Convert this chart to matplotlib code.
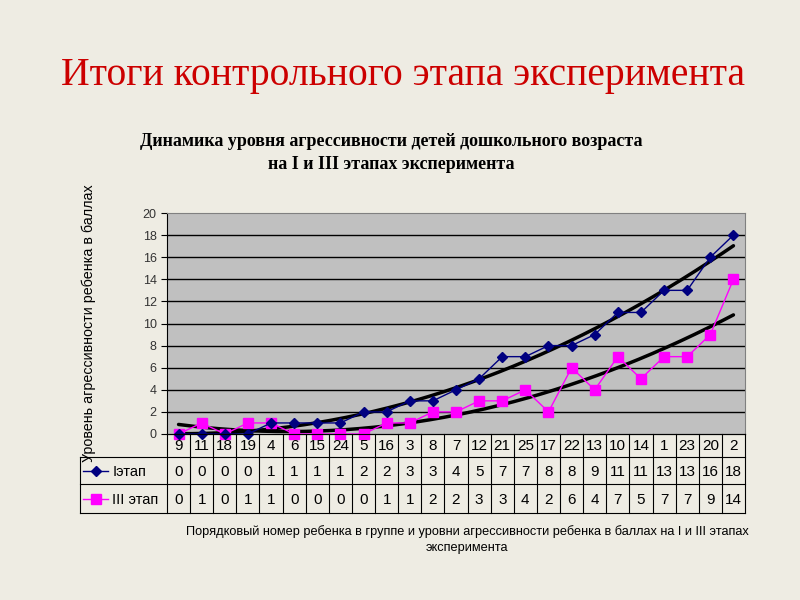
import numpy as np
import matplotlib.pyplot as plt
from matplotlib.lines import Line2D

# child numbers (table header) and aggression scores per stage
children = [9, 11, 18, 19, 4, 6, 15, 24, 5, 16, 3, 8, 7, 12, 21, 25, 17, 22, 13, 10, 14, 1, 23, 20, 2]
stage1 = [0, 0, 0, 0, 1, 1, 1, 1, 2, 2, 3, 3, 4, 5, 7, 7, 8, 8, 9, 11, 11, 13, 13, 16, 18]
stage3 = [0, 1, 0, 1, 1, 0, 0, 0, 0, 1, 1, 2, 2, 3, 3, 4, 2, 6, 4, 7, 5, 7, 7, 9, 14]
yticks = list(range(0, 21, 2))

bg = '#EEECE3'
W, H = 800, 600
plt.rcParams['font.family'] = ['Liberation Sans', 'DejaVu Sans']

fig = plt.figure(figsize=(8, 6), dpi=100, facecolor=bg)


def box(l, t, r, b):
    # pixel box -> figure fraction
    return [l / W, 1 - b / H, (r - l) / W, (b - t) / H]


fig.text(403 / W, 1 - 76 / H, 'Итоги контрольного этапа эксперимента',
         ha='center', va='center', color='#CC0000', fontsize=28.5,
         family=['Liberation Serif', 'DejaVu Serif'])
fig.text(391 / W, 1 - 153 / H,
         'Динамика уровня агрессивности детей дошкольного возраста\nна I и III этапах эксперимента',
         ha='center', va='center', fontsize=13, fontweight='bold', linespacing=1.45,
         family=['Liberation Serif', 'DejaVu Serif'])

n = len(children)
x = np.arange(1, n + 1)
L, T, R, B = 167, 213, 745, 434
cell = (R - L) / n

ax = fig.add_axes(box(L, T, R, B))
ax.set_facecolor('#C0C0C0')
ax.set_xlim(0.5, n + 0.5)
ax.set_ylim(0, 20)
ax.set_yticks(yticks)
ax.set_xticks(np.arange(0.5, n + 1, 1))
ax.set_xticklabels([])
ax.tick_params(axis='y', labelsize=9, labelcolor='#333333', length=4, width=0.8)
ax.tick_params(axis='x', length=0)
for y in yticks[1:-1]:
    ax.axhline(y, color='black', lw=1, zorder=1)
for s in ax.spines.values():
    s.set_color('#808080')
ax.spines['left'].set_color('black')
ax.spines['bottom'].set_color('black')

# polynomial trend lines
for vals in (stage1, stage3):
    c = np.polyfit(x, vals, 2)
    xs = np.linspace(1, n, 200)
    ax.plot(xs, np.polyval(c, xs), color='black', lw=2.5, zorder=2, solid_capstyle='round')

ax.plot(x, stage1, color='#000080', marker='D', ms=5.5, lw=1, zorder=4, clip_on=False)
ax.plot(x, stage3, color='#FF00FF', marker='s', ms=7, lw=1, zorder=3, clip_on=False)

ax.text(-0.135, 0.5, 'Уровень агрессивности ребенка в баллах', transform=ax.transAxes,
        rotation=90, ha='center', va='center', fontsize=10.3)

# data table below the plot
TL, TB = 80, 513
rows = [434, 457, 484, 513]
tab = fig.add_axes(box(TL, B, R, TB))
tab.set_xlim(0.5 - (L - TL) / cell, n + 0.5)
tab.set_ylim(TB, B)
tab.axis('off')
lk = dict(color='black', lw=0.8, clip_on=False)
tab.plot([0.5, n + 0.5], [rows[0], rows[0]], **lk)
for yy in rows[1:]:
    tab.plot([0.5 - (L - TL) / cell, n + 0.5], [yy, yy], **lk)
for k in range(n + 1):
    tab.plot([k + 0.5, k + 0.5], [rows[0], rows[-1]], **lk)
tab.plot([0.5 - (L - TL) / cell] * 2, [rows[1], rows[-1]], **lk)

for i in range(n):
    for r, vals in enumerate((children, stage1, stage3)):
        tab.text(x[i], (rows[r] + rows[r + 1]) / 2 + 1, str(vals[i]),
                 ha='center', va='center', fontsize=11)

x0 = 0.5 - (L - TL) / cell
for r, (lab, col, mk, ms) in enumerate([('Iэтап', '#000080', 'D', 5.5),
                                          ('III этап', '#FF00FF', 's', 7)]):
    yc = (rows[r + 1] + rows[r + 2]) / 2
    tab.add_line(Line2D([x0 + 0.15, x0 + 1.2], [yc, yc], color=col, lw=1))
    tab.plot(x0 + 0.68, yc, marker=mk, color=col, ms=ms)
    tab.text(x0 + 1.4, yc + 1, lab, ha='left', va='center', fontsize=10.5)

fig.text(467 / W, 1 - 540 / H,
         'Порядковый номер ребенка в группе и уровни агрессивности ребенка в баллах на I и III этапах\nэксперимента',
         ha='center', va='center', fontsize=9.2, linespacing=1.45)

fig.savefig('out.png', dpi=100, facecolor=bg)
